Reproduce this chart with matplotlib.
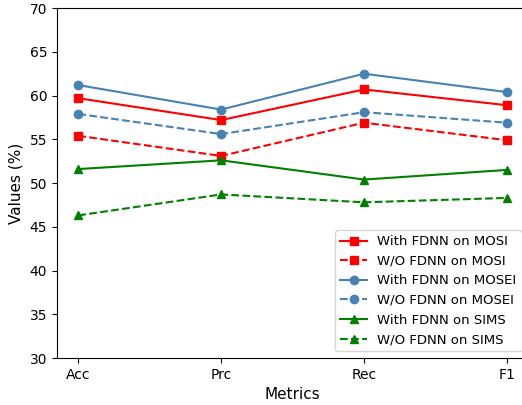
import matplotlib
matplotlib.use("Agg")
import matplotlib.pyplot as plt

metrics = ["Acc", "Prc", "Rec", "F1"]

mosi_with = [59.7, 57.2, 60.7, 58.9]
mosi_wo = [55.4, 53.1, 56.9, 54.9]
mosei_with = [61.2, 58.4, 62.5, 60.4]
mosei_wo = [57.9, 55.6, 58.1, 56.9]
sims_with = [51.6, 52.6, 50.4, 51.5]
sims_wo = [46.3, 48.7, 47.8, 48.3]

fig, ax = plt.subplots(figsize=(5.22, 4.05), dpi=100)
x = range(len(metrics))

ax.plot(x, mosi_with, color="red", marker="s", linestyle="-", label="With FDNN on MOSI")
ax.plot(x, mosi_wo, color="red", marker="s", linestyle="--", label="W/O FDNN on MOSI")
ax.plot(x, mosei_with, color="steelblue", marker="o", linestyle="-", label="With FDNN on MOSEI")
ax.plot(x, mosei_wo, color="steelblue", marker="o", linestyle="--", label="W/O FDNN on MOSEI")
ax.plot(x, sims_with, color="green", marker="^", linestyle="-", label="With FDNN on SIMS")
ax.plot(x, sims_wo, color="green", marker="^", linestyle="--", label="W/O FDNN on SIMS")

ax.set_xticks(list(x))
ax.set_xticklabels(metrics)
ax.set_ylim(30, 70)
ax.set_xlabel("Metrics", fontsize=11)
ax.set_ylabel("Values (%)", fontsize=11)
ax.legend(loc="lower right", fontsize=9.5)

# axes run slightly past the right edge of the canvas
fig.subplots_adjust(left=0.109, right=1.012, top=0.980, bottom=0.116)
fig.savefig("out.png", dpi=100)
